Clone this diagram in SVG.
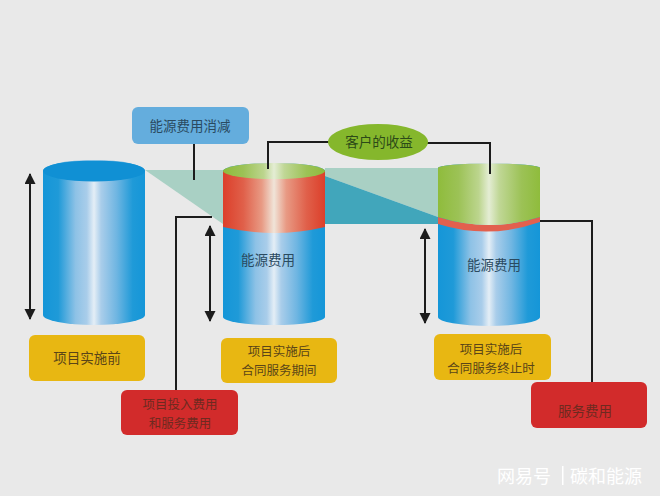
<svg xmlns="http://www.w3.org/2000/svg" width="660" height="496" viewBox="0 0 660 496">
<style>
text{font-family:"Noto Sans CJK SC","Liberation Sans",sans-serif;text-anchor:middle;font-size:13.500px;fill:#5a4518}
.line{fill:none;stroke:#1c1c1c;stroke-width:2}
.arr{fill:none;stroke:#1c1c1c;stroke-width:2;marker-start:url(#ah);marker-end:url(#ah)}
.y{fill:#e8b712}.r{fill:#d22b2b}
.t2{font-size:12.500px}
.rt{fill:#6e2a20}
.bt{fill:#2a4a60}
.w{fill:#fff}
</style>
<defs>
<marker id="ah" markerWidth="12" markerHeight="12" refX="10" refY="5.500" orient="auto-start-reverse" markerUnits="userSpaceOnUse"><path d="M0,0L11,5.500L0,11Z" fill="#1c1c1c"/></marker>
<linearGradient id="b"><stop offset="0" stop-color="#1596d8"/><stop offset=".15" stop-color="#1f9ad8"/><stop offset=".32" stop-color="#8ec2e6"/><stop offset=".43" stop-color="#a9cdea"/><stop offset=".5" stop-color="#e4eef6"/><stop offset=".57" stop-color="#a9cdea"/><stop offset=".72" stop-color="#70b6e2"/><stop offset=".88" stop-color="#1f9ad8"/><stop offset="1" stop-color="#1596d8"/></linearGradient>
<linearGradient id="g"><stop offset="0" stop-color="#8fbc3c"/><stop offset=".2" stop-color="#9cc256"/><stop offset=".4" stop-color="#bcd58e"/><stop offset=".5" stop-color="#e4edd4"/><stop offset=".6" stop-color="#c0d796"/><stop offset=".82" stop-color="#9cc256"/><stop offset="1" stop-color="#8fbc3c"/></linearGradient>
<linearGradient id="e"><stop offset="0" stop-color="#dc3f2a"/><stop offset=".2" stop-color="#e0604a"/><stop offset=".38" stop-color="#e89a84"/><stop offset=".5" stop-color="#f0e4d8"/><stop offset=".62" stop-color="#e89a84"/><stop offset=".82" stop-color="#e0604a"/><stop offset="1" stop-color="#dc3f2a"/></linearGradient>
</defs>
<rect width="660" height="496" fill="#e9e9e9"/>
<g id="wedges">
<path d="M145,170H223V224Z" fill="#a9d0c4"/>
<path d="M325,168H438V217L325,176Z" fill="#a9d0c4"/>
<path d="M325,176L438,217V224H325Z" fill="#41a6bb"/>
</g>
<g id="cylinder-before">
<path d="M43,171A51,11 0 0 1 145,171V315A51,10 0 0 1 43,315Z" fill="url(#b)"/>
<ellipse cx="94" cy="171" rx="51" ry="10.500" fill="#1090d4"/>
</g>
<g id="cylinder-during">
<path d="M223,171A51,8 0 0 1 325,171V317A51,8 0 0 1 223,317Z" fill="url(#b)"/>
<path d="M223,171H325V227Q274,239 223,227Z" fill="url(#e)"/>
<path d="M223,171A51,8 0 0 1 325,171A51,8 0 0 1 223,171Z" fill="url(#g)"/>
<text x="268" y="265" class="bt">能源费用</text>
</g>
<g id="cylinder-after">
<path d="M438,168A51,4.500 0 0 1 540,168V317A51,9 0 0 1 438,317Z" fill="url(#b)"/>
<path d="M438,217Q489,233 540,217V222Q489,240 438,224Z" fill="#e2604e"/>
<path d="M438,168A51,4.500 0 0 1 540,168V217Q489,233 438,217Z" fill="url(#g)"/>
<text x="494" y="270" class="bt">能源费用</text>
</g>
<g id="connectors">
<path class="line" d="M194,144V180"/>
<path class="line" d="M330,142H268V169"/>
<path class="line" d="M426,143H490V174"/>
<path class="line" d="M212,217H176V392"/>
<path class="line" d="M540,221H592V392"/>
<path class="arr" d="M30,174V319"/>
<path class="arr" d="M210,226V321"/>
<path class="arr" d="M425,229V323"/>
</g>
<g id="energy-saving"><rect x="132" y="107" width="117" height="37" rx="6" fill="#64addd"/><text x="190" y="131" class="bt">能源费用消减</text></g>
<g id="customer-benefit"><ellipse cx="378" cy="142" rx="50" ry="18" fill="#85b72c"/><text x="379" y="147" style="fill:#2c4a18">客户的收益</text></g>
<g id="label-before"><rect class="y" x="29" y="335" width="116" height="46" rx="6"/><text x="87" y="363">项目实施前</text></g>
<g id="label-during"><rect class="y" x="221" y="338" width="116" height="45" rx="6"/><text x="279" y="356" class="t2">项目实施后</text><text x="279" y="374.500" class="t2">合同服务期间</text></g>
<g id="label-after"><rect class="y" x="434" y="334" width="117" height="46" rx="6"/><text x="491" y="354" class="t2">项目实施后</text><text x="491" y="372.500" class="t2">合同服务终止时</text></g>
<g id="investment-cost"><rect class="r" x="121" y="390" width="117" height="45" rx="6"/><text x="180" y="409" class="t2 rt">项目投入费用</text><text x="180" y="427.500" class="t2 rt">和服务费用</text></g>
<g id="service-cost"><rect class="r" x="531" y="382" width="116" height="46" rx="6"/><text x="585" y="416" class="rt">服务费用</text></g>
<g id="watermark"><text x="524" y="483" class="w" style="font-size:18px">网易号</text><rect x="562" y="466" width="1.500" height="19" fill="#fff"/><text x="606" y="483" class="w" style="font-size:18px">碳和能源</text></g>
</svg>
